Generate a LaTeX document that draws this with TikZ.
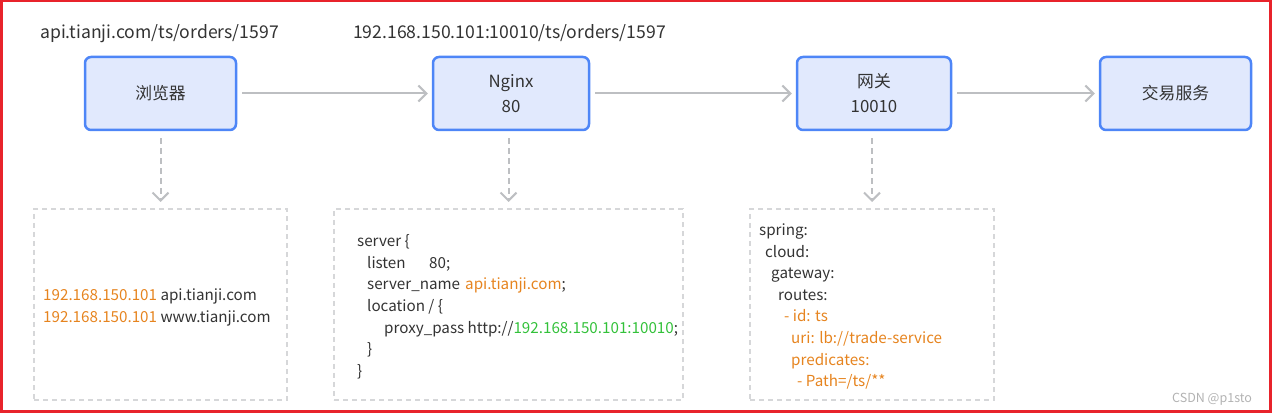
\documentclass[tikz,border=0pt]{standalone}
\usepackage{fontspec}
\setmainfont{Noto Sans CJK SC}
\usetikzlibrary{arrows.meta}

\definecolor{boxblue}{HTML}{4E86F7}
\definecolor{boxfill}{HTML}{E1E9FD}
\definecolor{linegray}{HTML}{BDBFC2}
\definecolor{dashgray}{HTML}{D6D7D9}
\definecolor{txt}{HTML}{333333}
\definecolor{hlorange}{HTML}{E6841F}
\definecolor{hlgreen}{HTML}{33C13A}
\definecolor{framered}{HTML}{E8232B}
\definecolor{markgray}{HTML}{B2B2B2}

\begin{document}
\begin{tikzpicture}[x=1pt, y=-1pt,
                    every node/.style = {inner sep=0pt, text=txt},
                    svc/.style = {draw=boxblue, fill=boxfill, line width=2.5pt,
                    rounded corners=6pt, minimum height=73pt,
                    align=center, font=\fontsize{16.8}{25}\selectfont},
                    note/.style = {draw=dashgray, line width=2pt,
                    dash pattern=on 5pt off 4pt, minimum height=191pt},
                    url/.style = {anchor=base west, font=\fontsize{17.6}{22}\selectfont},
                    code/.style = {anchor=base west, font=\fontsize{15.2}{20}\selectfont},
                    flow/.style = {draw=linegray, line width=2pt,
                    shorten <=5pt, shorten >=4pt,
                    -{Straight Barb[length=8pt, width=16pt]}},
                    link/.style = {flow, dash pattern=on 6pt off 4pt,
                    shorten <=7pt, shorten >=6pt}]
  \useasboundingbox (0,0) rectangle (1272,414);
  \draw[framered, line width=2.5pt] (1.25,1.25) rectangle (1270.5,411.5);

  % request urls
  \node[url] (url1) at (40,39) {api.tianji.com/ts/orders/1597};
  \node[url] (url2) at (353,39) {192.168.150.101:10010/ts/orders/1597};

  % services
  \node[svc, minimum width=151pt] (browser) at (160.5,93.5) {浏览器};
  \node[svc, minimum width=156pt] (nginx) at (511,93.5) {Nginx\\80};
  \node[svc, minimum width=154pt] (gateway) at (874,93.5) {网关\\10010};
  \node[svc, minimum width=151pt] (trade) at (1175.5,93.5) {交易服务};

  \draw[flow] (browser) -- (nginx);
  \draw[flow] (nginx) -- (gateway);
  \draw[flow] (gateway) -- (trade);

  % config notes
  \node[note, minimum width=253pt] (hosts) at (160.5,304.5) {};
  \node[note, minimum width=349pt] (nginxconf) at (508.5,304.5) {};
  \node[note, minimum width=244pt] (gwconf) at (872,304.5) {};

  \draw[link] (browser.south -| hosts.north) -- (hosts.north);
  \draw[link] (nginx.south -| nginxconf.north) -- (nginxconf.north);
  \draw[link] (gateway.south -| gwconf.north) -- (gwconf.north);

  \node[code] (host-1) at (43,300) {{\color{hlorange}192.168.150.101} api.tianji.com};
  \node[code] (host-2) at (43,322) {{\color{hlorange}192.168.150.101} www.tianji.com};

  \foreach \x/\t [count=\i from 0] in {357/{server \{},
      367/{\makebox[62pt][l]{listen}80;},
      367/{\makebox[98pt][l]{server\_name}{\color{hlorange}api.tianji.com};},
      367/{location / \{},
      384/{proxy\_pass http://{\color{hlgreen}192.168.150.101:10010};},
      367/{\}},
      357/{\}}}
    \node[code] (ngx-\i) at (\x,247+21.5*\i) {\t};

  \foreach \x/\c/\t [count=\i from 0] in {759/txt/{spring:},
      765/txt/{cloud:}, 771/txt/{gateway:}, 778/txt/{routes:},
      784/hlorange/{- id: ts}, 791/hlorange/{uri: lb://trade-service},
      791/hlorange/{predicates:}, 797/hlorange/{- Path=/ts/**}}
    \node[code, text=\c] (gw-\i) at (\x,235.5+21.6*\i) {\t};

  \node[anchor=base west, text=markgray, font=\fontsize{12.5}{14}\selectfont]
    (mark) at (1172,402) {CSDN @p1sto};
\end{tikzpicture}
\end{document}
